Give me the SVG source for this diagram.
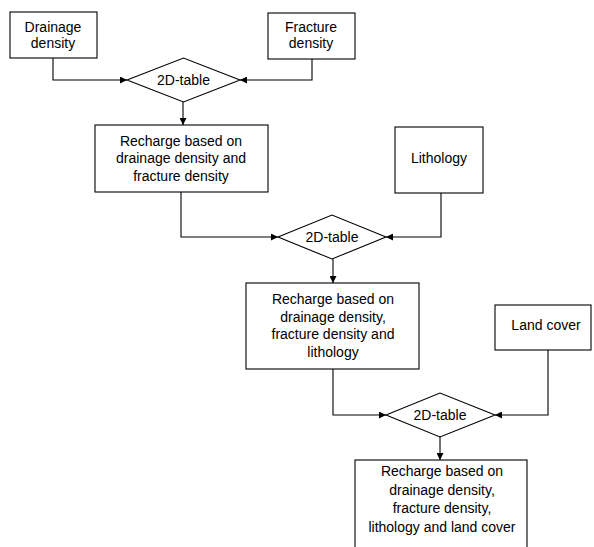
<svg xmlns="http://www.w3.org/2000/svg" width="594" height="547" viewBox="0 0 594 547">
<style>
.box{fill:#fff;stroke:#000;stroke-width:1.1}
.t{font-family:"Liberation Sans",Arial,sans-serif;font-size:14px;fill:#000;text-anchor:middle}
.c{fill:none;stroke:#000;stroke-width:1.1}
</style>
<defs>
<marker id="ah" viewBox="0 0 8 8" refX="8" refY="4" markerWidth="7" markerHeight="7" orient="auto" markerUnits="userSpaceOnUse">
<path d="M0,0 L8,4 L0,8 z" fill="#000"/>
</marker>
</defs>
<rect width="594" height="547" fill="#fff"/>
<g id="connectors">
<polyline class="c" points="53,58 53,80 127,80" marker-end="url(#ah)"/>
<polyline class="c" points="312,59 312,80 240,80" marker-end="url(#ah)"/>
<polyline class="c" points="183,102 183,125" marker-end="url(#ah)"/>
<polyline class="c" points="181,192 181,237 278,237" marker-end="url(#ah)"/>
<polyline class="c" points="441,193 441,237 386,237" marker-end="url(#ah)"/>
<polyline class="c" points="333,259 333,283" marker-end="url(#ah)"/>
<polyline class="c" points="333,369 333,415 386,415" marker-end="url(#ah)"/>
<polyline class="c" points="548,350 548,415 495,415" marker-end="url(#ah)"/>
<polyline class="c" points="440,436 440,460" marker-end="url(#ah)"/>
</g>
<g id="drainage">
<rect class="box" x="10" y="12" width="87" height="46"/>
<text class="t" x="53" y="32">Drainage</text>
<text class="t" x="53" y="48">density</text>
</g>
<g id="fracture">
<rect class="box" x="268" y="13" width="87" height="46"/>
<text class="t" x="311" y="32">Fracture</text>
<text class="t" x="311" y="48">density</text>
</g>
<g id="table1">
<polygon class="box" points="127,80 183.5,58 240,80 183.5,102"/>
<text class="t" x="183.5" y="85">2D-table</text>
</g>
<g id="recharge1">
<rect class="box" x="95" y="125" width="173" height="67"/>
<text class="t" x="181" y="146">Recharge based on</text>
<text class="t" x="181" y="163">drainage density and</text>
<text class="t" x="181" y="181">fracture density</text>
</g>
<g id="lithology">
<rect class="box" x="395" y="127" width="88" height="66"/>
<text class="t" x="439" y="163">Lithology</text>
</g>
<g id="table2">
<polygon class="box" points="278,237 332,215 386,237 332,259"/>
<text class="t" x="332" y="242">2D-table</text>
</g>
<g id="recharge2">
<rect class="box" x="246" y="283" width="173" height="86"/>
<text class="t" x="333" y="304">Recharge based on</text>
<text class="t" x="333" y="322">drainage density,</text>
<text class="t" x="333" y="339">fracture density and</text>
<text class="t" x="333" y="357">lithology</text>
</g>
<g id="landcover">
<rect class="box" x="495" y="305" width="96" height="45"/>
<text class="t" x="546" y="330">Land cover</text>
</g>
<g id="table3">
<polygon class="box" points="386,415 440,393 495,415 440,437"/>
<text class="t" x="440" y="420">2D-table</text>
</g>
<g id="recharge3">
<rect class="box" x="355" y="460" width="172" height="100"/>
<text class="t" x="442" y="476">Recharge based on</text>
<text class="t" x="442" y="495">drainage density,</text>
<text class="t" x="442" y="513">fracture density,</text>
<text class="t" x="442" y="532">lithology and land cover</text>
</g>
</svg>
